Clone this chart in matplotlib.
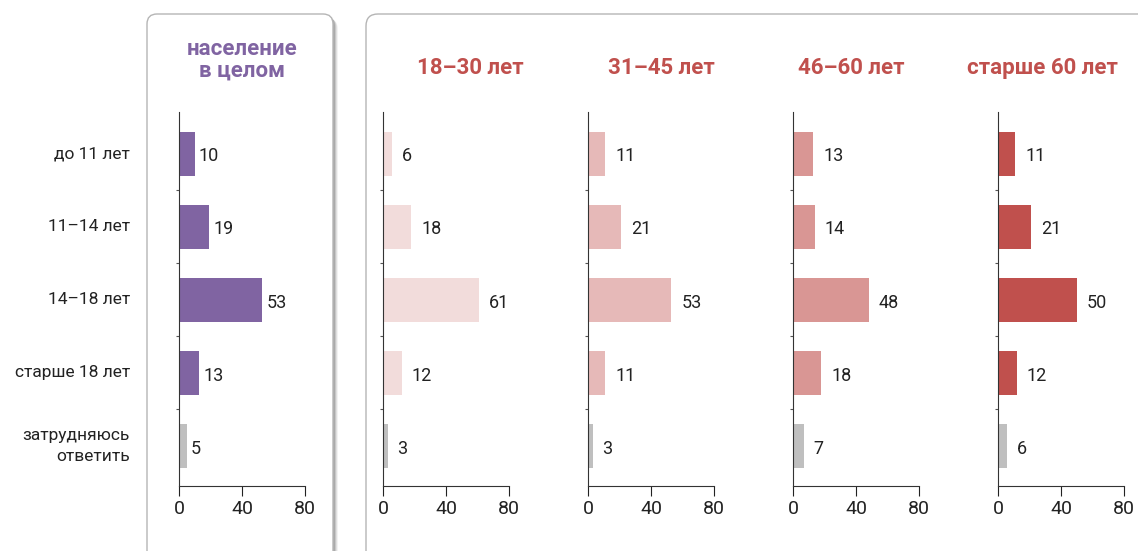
import matplotlib.pyplot as plt
from matplotlib.patches import FancyBboxPatch
import numpy as np

plt.rcParams['font.family'] = ['Roboto', 'DejaVu Sans']

# categories (answers) and groups
categories = ['до 11 лет', '11–14 лет', '14–18 лет', 'старше 18 лет', 'затрудняюсь\nответить']
groups = ['население\nв целом', '18–30 лет', '31–45 лет', '46–60 лет', 'старше 60 лет']

total = [10, 19, 53, 13, 5]
age_18_30 = [6, 18, 61, 12, 3]
age_31_45 = [11, 21, 53, 11, 3]
age_46_60 = [13, 14, 48, 18, 7]
age_60_plus = [11, 21, 50, 12, 6]
values = [total, age_18_30, age_31_45, age_46_60, age_60_plus]

bar_colors = ['#8064A2', '#F2DCDB', '#E6B9B8', '#D99694', '#C0504D']
title_colors = ['#8064A2', '#C0504D', '#C0504D', '#C0504D', '#C0504D']
gray = '#BFBFBF'

W, H = 1138, 551
fig = plt.figure(figsize=(W / 100, H / 100), dpi=100)

# background boxes, drawn in pixel coords
bg = fig.add_axes([0, 0, 1, 1], zorder=-1)
bg.set_xlim(0, W)
bg.set_ylim(H, 0)
bg.axis('off')
# shadow of left box
for i, a in enumerate([0.05, 0.08, 0.11, 0.14]):
    off = 5 - i
    bg.add_patch(FancyBboxPatch((147 + off, 14 + off), 186, 560,
                                boxstyle='round,pad=0,rounding_size=10',
                                fc='#000000', ec='none', alpha=a))
bg.add_patch(FancyBboxPatch((147, 14), 186, 560, boxstyle='round,pad=0,rounding_size=10',
                            fc='white', ec='#B5B5B5', lw=1))
bg.add_patch(FancyBboxPatch((366, 14), 800, 560, boxstyle='round,pad=0,rounding_size=12',
                            fc='white', ec='#B5B5B5', lw=1))

panel_x0 = [179, 383, 588, 793, 998]
title_x = [242, 470, 661, 851, 1042]
ax_w = 126
ax_top, ax_bot = 112, 486
y = np.arange(len(categories))

for k in range(5):
    ax = fig.add_axes([panel_x0[k] / W, (H - ax_bot) / H, ax_w / W, (ax_bot - ax_top) / H])
    cols = [bar_colors[k]] * 4 + [gray]
    ax.barh(y, values[k], height=0.6, color=cols)
    ax.set_xlim(0, 80)
    ax.set_ylim(4.55, -0.57)
    for s in ['top', 'right']:
        ax.spines[s].set_visible(False)
    ax.spines['left'].set_color('#333333')
    ax.spines['bottom'].set_color('#333333')
    ax.set_xticks([0, 40, 80])
    ax.tick_params(axis='x', labelsize=14, length=7, direction='out', pad=3, colors='#222222')
    ax.set_yticks(np.arange(0.5, 3.6, 1.0))
    ax.set_yticklabels([])
    ax.tick_params(axis='y', length=2, direction='out', colors='#555555')
    off = 3 if k == 0 else 7
    for yi, v in zip(y, values[k]):
        ax.annotate(str(v), (v, yi), xytext=(off, -2), textcoords='offset points',
                    ha='left', va='center', fontsize=13, color='#222222')
    fig.text(title_x[k] / W, 1 - (60 if k == 0 else 68) / H, groups[k], ha='center', va='center',
             fontsize=16, fontweight='bold', color=title_colors[k], linespacing=1.0)

# category labels on the left
for yi, lab in zip(y, categories):
    ypix = ax_top + (yi + 0.57) / 5.12 * (ax_bot - ax_top)
    fig.text(130 / W, 1 - ypix / H, lab, ha='right', va='center', fontsize=12.5,
             color='#222222', linespacing=1.5)

fig.savefig('out.png', dpi=100)
